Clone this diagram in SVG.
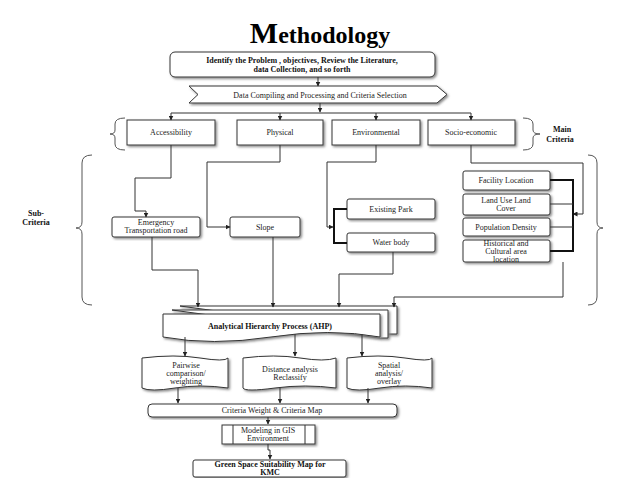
<svg xmlns="http://www.w3.org/2000/svg" width="638" height="478" viewBox="0 0 638 478">
<defs>
<marker id="ar" viewBox="0 0 10 10" refX="9" refY="5" markerWidth="5" markerHeight="5" orient="auto"><path d="M0,0L10,5L0,10z" fill="#222"/></marker>
<filter id="sh" x="-5%" y="-10%" width="115%" height="130%"><feDropShadow dx="1.5" dy="1.5" stdDeviation="0.8" flood-color="#888"/></filter>
</defs>
<style>
.b{fill:#fff;stroke:#333;stroke-width:1;filter:url(#sh)}
.t{font-family:"Liberation Serif",serif;font-size:8px;fill:#222;text-anchor:middle}
.bt{font-family:"Liberation Serif",serif;font-size:8px;font-weight:bold;fill:#111;text-anchor:middle}
.c{fill:none;stroke:#333;stroke-width:1}
.a{fill:none;stroke:#333;stroke-width:1;marker-end:url(#ar)}
.k{fill:none;stroke:#111;stroke-width:2}
.br{fill:none;stroke:#555;stroke-width:1}
</style>
<rect width="638" height="478" fill="#fff"/>
<text x="320" y="43" font-family="Liberation Serif,serif" font-size="24" font-weight="bold" text-anchor="middle" fill="#000"><tspan font-size="30">M</tspan>ethodology</text>

<g id="n1"><rect class="b" x="170" y="52" width="265" height="25" rx="5"/><text class="bt" x="302" y="63">Identify the Problem , objectives, Review the Literature,</text><text class="bt" x="302" y="72">data Collection, and so forth</text></g>
<g id="n2"><path class="b" d="M189,86H437L447,94.5L437,103H189L198,94.5z"/><text class="t" x="320" y="97.5">Data Compiling and Processing and Criteria Selection</text></g>
<g id="acc"><rect class="b" x="127" y="120" width="88" height="25"/><text class="t" x="171" y="135">Accessibility</text></g>
<g id="phy"><rect class="b" x="237" y="120" width="86" height="25"/><text class="t" x="280" y="135">Physical</text></g>
<g id="env"><rect class="b" x="332" y="120" width="88" height="25"/><text class="t" x="376" y="135">Environmental</text></g>
<g id="soc"><rect class="b" x="428" y="120" width="87" height="25"/><text class="t" x="471" y="135">Socio-economic</text></g>
<g id="mainlabel"><path class="br" d="M125,118Q115,118 115,124V130Q115,134 110,134Q115,134 115,138V144Q115,150 125,150"/><path class="br" d="M523,118Q533,118 533,124V130Q533,134 540,134Q533,134 533,138V144Q533,150 523,150"/><text class="bt" x="562" y="132">Main</text><text class="bt" x="560" y="142">Criteria</text></g>
<g id="sublabel"><path class="br" d="M92,155Q82,155 82,163V222Q82,228 76,228Q82,228 82,234V297Q82,305 92,305"/><path class="br" d="M588,155Q597,155 597,163V222Q597,228 603,228Q597,228 597,234V297Q597,305 588,305"/><text class="bt" x="36" y="216">Sub-</text><text class="bt" x="36" y="225">Criteria</text></g>

<g id="emg"><rect class="b" x="112" y="217" width="88" height="20" rx="2"/><text class="t" x="156" y="225">Emergency</text><text class="t" x="156" y="233">Transportation road</text></g>
<g id="slope"><rect class="b" x="230" y="217" width="70" height="20" rx="2"/><text class="t" x="265" y="230">Slope</text></g>
<g id="park"><rect class="b" x="347" y="199" width="88" height="20" rx="2"/><text class="t" x="391" y="212">Existing Park</text></g>
<g id="water"><rect class="b" x="347" y="233" width="88" height="19" rx="2"/><text class="t" x="391" y="245">Water body</text></g>
<g id="fac"><rect class="b" x="463" y="171" width="87" height="19" rx="2"/><text class="t" x="506" y="183">Facility Location</text></g>
<g id="lulc"><rect class="b" x="463" y="194" width="87" height="21" rx="2"/><text class="t" x="506" y="203">Land Use Land</text><text class="t" x="506" y="211">Cover</text></g>
<g id="pop"><rect class="b" x="463" y="218" width="87" height="18" rx="2"/><text class="t" x="506" y="230">Population Density</text></g>
<g id="hist"><rect class="b" x="463" y="240" width="87" height="22" rx="2"/><text class="t" x="506" y="246">Historical and</text><text class="t" x="506" y="254">Cultural area</text><text class="t" x="506" y="262">location</text></g>

<g id="ahp"><path class="b" d="M180,306H397V334H385z"/><path class="b" d="M172,310H388V338H380z"/><path class="b" d="M163,314H380V337Q330,328 271,337T163,337z"/><text class="bt" x="270" y="329">Analytical Hierarchy Process (AHP)</text></g>
<g id="d1"><path class="b" d="M142,358Q175,354 200,358T228,358V388Q200,384 175,388T142,388z"/><text class="t" x="186" y="368">Pairwise</text><text class="t" x="186" y="376">comparison/</text><text class="t" x="186" y="384">weighting</text></g>
<g id="d2"><path class="b" d="M243,358Q275,354 300,358T336,358V388Q305,384 275,388T243,388z"/><text class="t" x="290" y="372">Distance analysis</text><text class="t" x="290" y="380">Reclassify</text></g>
<g id="d3"><path class="b" d="M347,358Q380,354 405,358T432,358V388Q405,384 380,388T347,388z"/><text class="t" x="389" y="368">Spatial</text><text class="t" x="389" y="376">analysis/</text><text class="t" x="389" y="384">overlay</text></g>
<g id="cw"><rect class="b" x="148" y="404" width="249" height="13" rx="4"/><text class="t" x="272" y="413">Criteria Weight &amp; Criteria Map</text></g>
<g id="gis"><rect class="b" x="222" y="425" width="93" height="19"/><path class="c" d="M233,425V444M305,425V444"/><text class="t" x="268" y="433">Modeling in GIS</text><text class="t" x="268" y="441">Environment</text></g>
<g id="green"><rect class="b" x="193" y="460" width="153" height="17" rx="2" stroke-width="1.5"/><text class="bt" x="270" y="467">Green Space Suitability Map for</text><text class="bt" x="270" y="475">KMC</text></g>

<g id="connectors">
<path class="a" d="M318,77V86"/>
<path class="a" d="M320,103V112"/>
<path class="c" d="M171,113H471"/>
<path class="a" d="M171,113V120"/><path class="a" d="M280,113V120"/><path class="a" d="M376,113V120"/><path class="a" d="M471,113V120"/>
<path class="a" d="M171,145V178H135V211H146V217"/>
<path class="a" d="M280,145V162H207V227H230"/>
<path class="a" d="M376,145V162H327V227H333"/>
<path class="k" d="M347,209H334V243H347"/>
<path class="a" d="M471,145V163H583V214H573"/>
<path class="k" d="M550,180H573V251H550"/>
<path class="c" d="M550,204H573M550,227H573"/>
<path class="a" d="M152,237V270H198V307"/>
<path class="a" d="M273,237V307"/>
<path class="a" d="M393,252V274H339V307"/>
<path class="a" d="M563,262V297H394V307"/>
<path class="a" d="M185,337V356"/>
<path class="a" d="M295,334V356"/>
<path class="a" d="M362,334V356"/>
<path class="a" d="M178,388V403"/>
<path class="a" d="M280,388V403"/>
<path class="a" d="M368,388V403"/>
<path class="a" d="M268,417V424"/>
<path class="a" d="M268,444V450H270V459"/>
</g>
</svg>
